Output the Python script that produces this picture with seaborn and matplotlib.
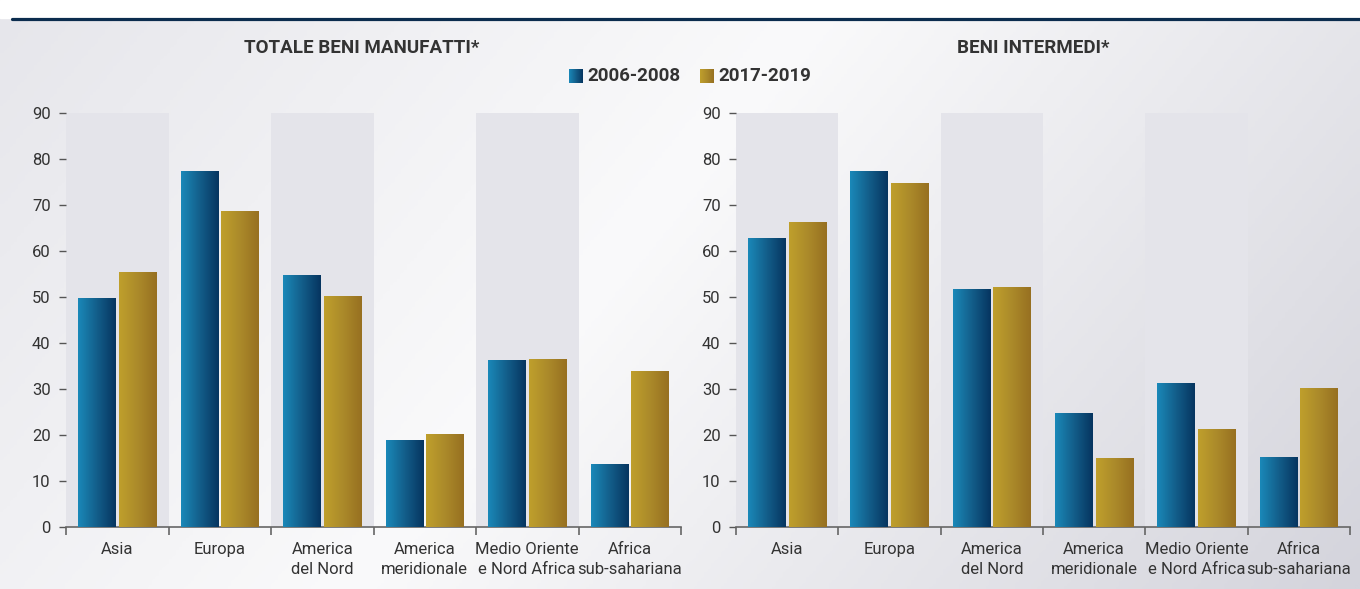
import numpy as np
import pandas as pd
import seaborn as sns
import matplotlib
matplotlib.use("Agg")
import matplotlib.pyplot as plt
from matplotlib.colors import LinearSegmentedColormap
from matplotlib.lines import Line2D
from matplotlib.patches import Rectangle

# ---------------- data ----------------
categories = ["Asia", "Europa", "America\ndel Nord", "America\nmeridionale",
              "Medio Oriente\ne Nord Africa", "Africa\nsub-sahariana"]
periods = ["2006-2008", "2017-2019"]
manufatti_2006_2008 = [49.6, 77.2, 54.6, 18.7, 36.1, 13.5]
manufatti_2017_2019 = [55.4, 68.5, 50.2, 20.2, 36.5, 33.7]
intermedi_2006_2008 = [62.8, 77.2, 51.7, 24.6, 31.3, 15.2]
intermedi_2017_2019 = [66.1, 74.6, 52.0, 14.8, 21.1, 30.2]
titles = ["TOTALE BENI MANUFATTI*", "BENI INTERMEDI*"]
yticks = [0, 10, 20, 30, 40, 50, 60, 70, 80, 90]

def make_df(a, b):
    return pd.DataFrame({
        "Regione": categories * 2,
        "Periodo": [periods[0]] * len(categories) + [periods[1]] * len(categories),
        "Valore": list(a) + list(b),
    })

dfs = [make_df(manufatti_2006_2008, manufatti_2017_2019),
       make_df(intermedi_2006_2008, intermedi_2017_2019)]

# ---------------- style ----------------
sns.set_theme(style="white")
FONT = ["Roboto", "DejaVu Sans"]
plt.rcParams["font.family"] = FONT
TXT = "#333333"

blue_cmap = LinearSegmentedColormap.from_list("b", ["#1a88b8", "#135e8a", "#063560"])
gold_cmap = LinearSegmentedColormap.from_list("g", ["#bf9f2c", "#ab8a2a", "#977021"])
cmaps = [blue_cmap, gold_cmap]

W, H = 1360, 589
fig = plt.figure(figsize=(W / 100, H / 100), dpi=100)

# background gradient
bg = fig.add_axes([0, 0, 1, 1], zorder=-10)
xx, yy = np.meshgrid(np.linspace(0, 1, 400), np.linspace(0, 1, 200))
u = (xx * 1.0 + yy * 0.35) / 1.35
bg_cmap = LinearSegmentedColormap.from_list(
    "bg", [(0, "#e6e6eb"), (0.45, "#fafafb"), (1.0, "#d4d4dc")])
bg.imshow(u, cmap=bg_cmap, aspect="auto", extent=[0, 1, 0, 1], origin="upper")
bg.add_patch(Rectangle((0, 1 - 18 / H), 1, 18 / H, color="white", zorder=2))
bg.set_xlim(0, 1); bg.set_ylim(0, 1)
bg.axis("off")
fig.add_artist(Line2D([12 / W, 1], [1 - 18.5 / H] * 2, color="#0b2c4e", lw=2.3))

ax_rects = [[66 / W, 1 - 527 / H, 615 / W, 414 / H],
            [736 / W, 1 - 527 / H, 614 / W, 414 / H]]
title_x = [362 / W, 1033 / W]

grad = np.linspace(0, 1, 64).reshape(1, -1)

for k, (df, rect) in enumerate(zip(dfs, ax_rects)):
    ax = fig.add_axes(rect)
    ax.set_facecolor("none")
    sns.barplot(data=df, x="Regione", y="Valore", hue="Periodo", order=categories,
                hue_order=periods, palette=["#135e8a", "#ab8a2a"], width=0.79,
                gap=0.07, legend=False, ax=ax, errorbar=None, saturation=1)
    # bands
    for i in range(0, len(categories), 2):
        ax.axvspan(i - 0.5, i + 0.5, color="#e4e4ea", zorder=0, lw=0)
    # gradient bars
    bars = [p for p in ax.patches if isinstance(p, Rectangle)]
    n = len(categories)
    for j, p in enumerate(bars[:2 * n]):
        x0, y0 = p.get_x(), p.get_y()
        w, h = p.get_width(), p.get_height()
        cm = cmaps[j // n]
        ax.imshow(grad, cmap=cm, aspect="auto", extent=[x0, x0 + w, y0, y0 + h],
                  zorder=3, interpolation="bilinear")
        p.set_visible(False)
    ax.set_xlim(-0.5, n - 0.5)
    ax.set_ylim(0, 90)
    ax.set_xlabel(""); ax.set_ylabel("")
    for s in ["top", "right", "left"]:
        ax.spines[s].set_visible(False)
    ax.spines["bottom"].set_color("#666666")
    ax.spines["bottom"].set_linewidth(1.2)
    ax.set_yticks(yticks)
    ax.set_yticklabels([str(v) for v in yticks])
    ax.tick_params(axis="y", length=5, width=1, color="#555555", direction="out",
                   labelsize=12, labelcolor=TXT, pad=6, left=True)
    ax.set_xticks(np.arange(-0.5, n, 1.0))
    ax.set_xticklabels([""] * (n + 1))
    ax.tick_params(axis="x", which="major", length=6, width=1.2, color="#666666",
                   direction="out", bottom=True)
    ax.set_xticks(np.arange(n), minor=True)
    ax.set_xticklabels(categories, minor=True, fontsize=12, color=TXT,
                       linespacing=1.4)
    ax.tick_params(axis="x", which="minor", length=0, pad=11)
    ax.grid(False)
    fig.text(title_x[k], 1 - 48 / H, titles[k], ha="center", va="center",
             fontsize=13.5, fontweight="bold", color=TXT)

# legend
leg_items = [(569, periods[0], blue_cmap), (700, periods[1], gold_cmap)]
for x, label, cm in leg_items:
    lax = fig.add_axes([x / W, 1 - 83 / H, 14 / W, 14 / H])
    lax.imshow(grad, cmap=cm, aspect="auto", extent=[0, 1, 0, 1])
    lax.axis("off")
    fig.text((x + 18) / W, 1 - 76 / H, label, ha="left", va="center",
             fontsize=13.5, fontweight="bold", color=TXT)

fig.savefig("out.png", dpi=100)
